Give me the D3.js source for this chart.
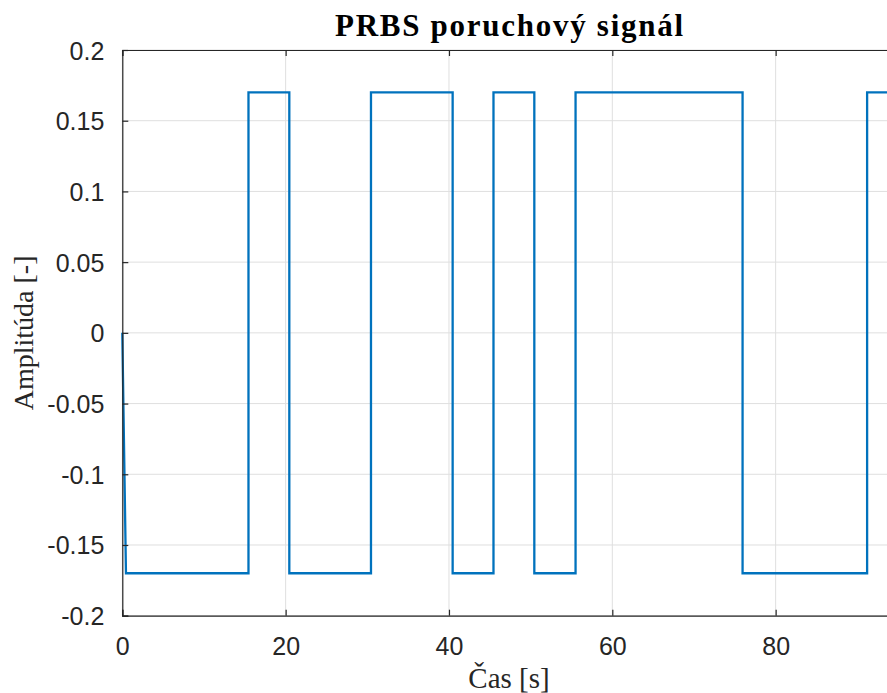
<!DOCTYPE html>
<html><head><meta charset="utf-8">
<script src="https://cdn.jsdelivr.net/npm/d3@7"></script>
<style>body{margin:0;background:#fff;overflow:hidden}</style>
</head><body>
<svg id="c" width="887" height="693"></svg>
<script>
// Data
const timeS = [0, 0.45, 15.45, 15.45, 20.45, 20.45, 30.45, 30.45, 40.45, 40.45, 45.45, 45.45, 50.45, 50.45, 55.5, 55.5, 75.95, 75.95, 91.2, 91.2, 94.7];
const amplitude = [0, -0.17, -0.17, 0.17, 0.17, -0.17, -0.17, 0.17, 0.17, -0.17, -0.17, 0.17, 0.17, -0.17, -0.17, 0.17, 0.17, -0.17, -0.17, 0.17, 0.17];
const xTicks = [0, 20, 40, 60, 80];
const yTicks = [-0.2, -0.15, -0.1, -0.05, 0, 0.05, 0.1, 0.15, 0.2];
const yTickLabels = ["-0.2", "-0.15", "-0.1", "-0.05", "0", "0.05", "0.1", "0.15", "0.2"];
const titleText = "PRBS poruchový signál";
const xLabel = "Čas [s]";
const yLabel = "Amplitúda [-]";

const L = 122.3, R = 895.7, T = 50, B = 615.7;
const svg = d3.select("#c");
const x = d3.scaleLinear().domain([0, 94.7]).range([L, R]);
const y = d3.scaleLinear().domain([-0.2, 0.2]).range([B, T]);
const axisCol = "#262626";

// grid
const g = svg.append("g");
g.selectAll(".gx").data(xTicks).join("line")
  .attr("x1", d => x(d)).attr("x2", d => x(d)).attr("y1", T).attr("y2", B)
  .attr("stroke", "#dfdfdf").attr("stroke-width", 1);
g.selectAll(".gy").data(yTicks).join("line")
  .attr("y1", d => y(d)).attr("y2", d => y(d)).attr("x1", L).attr("x2", R)
  .attr("stroke", "#dfdfdf").attr("stroke-width", 1);

// line
const pts = timeS.map((t, i) => [t, amplitude[i]]);
svg.append("path").datum(pts)
  .attr("d", d3.line().x(d => x(d[0])).y(d => y(d[1])))
  .attr("fill", "none").attr("stroke", "#0072BD").attr("stroke-width", 2.3)
  .attr("stroke-linejoin", "miter");

// axes (ticks inside)
const fontSans = "'Liberation Sans', Arial, sans-serif";
const ax = d3.axisBottom(x).tickValues(xTicks).tickSize(-6).tickPadding(22).tickFormat(d3.format("d"));
const gxA = svg.append("g").attr("transform", `translate(0,${B})`).call(ax);
const axTop = d3.axisTop(x).tickValues(xTicks).tickSize(-6).tickFormat("");
const gxT = svg.append("g").attr("transform", `translate(0,${T})`).call(axTop);
const ay = d3.axisLeft(y).tickValues(yTicks).tickSize(-6).tickPadding(18).tickFormat((d, i) => yTickLabels[i]);
const gyA = svg.append("g").attr("transform", `translate(${L},0)`).call(ay);
const ayR = d3.axisRight(y).tickValues(yTicks).tickSize(-6).tickFormat("");
const gyR = svg.append("g").attr("transform", `translate(${R},0)`).call(ayR);
[gxA, gxT, gyA, gyR].forEach(a => {
  a.select(".domain").attr("stroke", axisCol).attr("stroke-width", 1.2);
  a.selectAll(".tick line").attr("stroke", axisCol).attr("stroke-width", 1.2);
  a.selectAll("text").attr("fill", axisCol).style("font-family", fontSans).style("font-size", "25px");
});
gxA.selectAll("text").attr("dy", "0.71em").attr("y", 22);
gyA.selectAll("text").attr("dy", "0.36em");

// texts
const fontSerif = "'Liberation Serif', 'Times New Roman', serif";
svg.append("text").attr("x", (L + R) / 2).attr("y", 36).attr("text-anchor", "middle")
  .style("font-family", fontSerif).style("font-size", "31px").style("font-weight", "bold")
  .attr("textLength", 348)
  .attr("fill", "#000").text(titleText);
svg.append("text").attr("x", (L + R) / 2).attr("y", 688).attr("text-anchor", "middle")
  .style("font-family", fontSerif).style("font-size", "29px").attr("fill", axisCol).text(xLabel);
svg.append("text").attr("transform", `translate(33,${(T + B) / 2}) rotate(-90)`).attr("text-anchor", "middle")
  .style("font-family", fontSerif).style("font-size", "28px").attr("fill", axisCol).text(yLabel);
</script>
</body></html>
